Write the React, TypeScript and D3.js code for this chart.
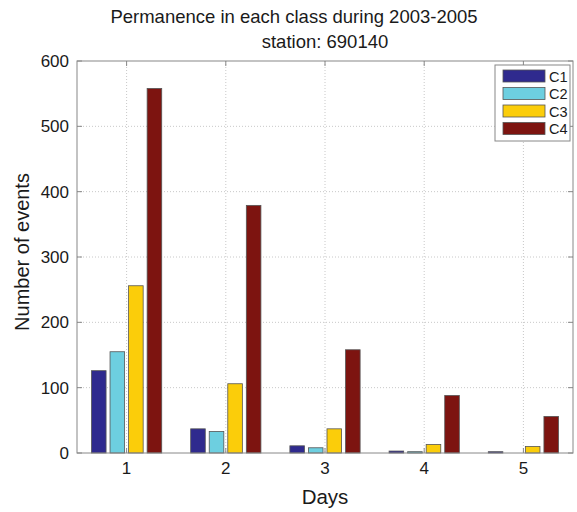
import React from "react";
import * as d3 from "d3";

const days = [1, 2, 3, 4, 5];
const classes = ["C1", "C2", "C3", "C4"];
const c1 = [126, 37, 11, 3, 2];
const c2 = [155, 33, 8, 2, 0];
const c3 = [256, 106, 37, 13, 10];
const c4 = [558, 379, 158, 88, 56];
const yTicks = [0, 100, 200, 300, 400, 500, 600];
const colors = ["#2f2a8e", "#6dcfe0", "#fbcd0a", "#7d1410"];

const W = 577;
const H = 512;
const left = 77;
const right = 573;
const top = 61;
const bottom = 453;
const font = "Liberation Sans, Arial, sans-serif";

export default function App() {
  const series = [c1, c2, c3, c4];
  const x = d3.scaleLinear().domain([0.5, 5.5]).range([left, right]);
  const y = d3.scaleLinear().domain([0, 600]).range([bottom, top]);
  const step = 0.187;
  const bw = 0.147;

  return (
    <svg width={W} height={H} style={{ position: "absolute", left: 0, top: 0 }}>
      <rect x={0} y={0} width={W} height={H} fill="#fff" />
      <text x={(left + right) / 2 - 31} y={23} textAnchor="middle" fontFamily={font} fontSize={18.5} fill="#1a1a1a">
        Permanence in each class during 2003-2005
      </text>
      <text x={(left + right) / 2} y={48} textAnchor="middle" fontFamily={font} fontSize={18.5} fill="#1a1a1a">
        station: 690140
      </text>

      {/* grid */}
      {yTicks.slice(1, -1).map((t) => (
        <line key={"gy" + t} x1={left} x2={right} y1={y(t)} y2={y(t)} stroke="#c8c8c8" strokeDasharray="1,2" />
      ))}
      {days.map((d) => (
        <line key={"gx" + d} x1={x(d)} x2={x(d)} y1={top} y2={bottom} stroke="#c8c8c8" strokeDasharray="1,2" />
      ))}

      {/* bars */}
      {series.map((vals, si) =>
        vals.map((v, di) => {
          const cx = days[di] + (si - 1.5) * step;
          const x0 = x(cx - bw / 2);
          const x1 = x(cx + bw / 2);
          return (
            <rect
              key={si + "-" + di}
              x={x0}
              y={y(v)}
              width={x1 - x0}
              height={y(0) - y(v)}
              fill={colors[si]}
              stroke="#555"
              strokeWidth={0.8}
            />
          );
        })
      )}

      {/* axes box */}
      <rect x={left} y={top} width={right - left} height={bottom - top} fill="none" stroke="#888" strokeWidth={1} />
      {yTicks.map((t) => (
        <g key={"yt" + t}>
          <line x1={left} x2={left + 5} y1={y(t)} y2={y(t)} stroke="#888" />
          <line x1={right - 5} x2={right} y1={y(t)} y2={y(t)} stroke="#888" />
          <text x={left - 8} y={y(t) + 6} textAnchor="end" fontFamily={font} fontSize={17} fill="#1a1a1a">
            {t}
          </text>
        </g>
      ))}
      {days.map((d) => (
        <g key={"xt" + d}>
          <line x1={x(d)} x2={x(d)} y1={bottom} y2={bottom - 5} stroke="#888" />
          <line x1={x(d)} x2={x(d)} y1={top} y2={top + 5} stroke="#888" />
          <text x={x(d)} y={bottom + 21} textAnchor="middle" fontFamily={font} fontSize={17} fill="#1a1a1a">
            {d}
          </text>
        </g>
      ))}

      <text x={(left + right) / 2} y={504} textAnchor="middle" fontFamily={font} fontSize={20.5} fill="#1a1a1a">
        Days
      </text>
      <text
        transform={`translate(29,${(top + bottom) / 2 - 5}) rotate(-90)`}
        textAnchor="middle"
        fontFamily={font}
        fontSize={20}
        fill="#1a1a1a"
      >
        Number of events
      </text>

      {/* legend */}
      <rect x={495} y={65} width={75} height={76} fill="#fff" stroke="#888" />
      {classes.map((c, i) => (
        <g key={c}>
          <rect x={503} y={70 + i * 17.5} width={42} height={12} fill={colors[i]} stroke="#555" strokeWidth={0.8} />
          <text x={549} y={81.5 + i * 17.5} fontFamily={font} fontSize={14.5} fill="#1a1a1a">
            {c}
          </text>
        </g>
      ))}
    </svg>
  );
}
